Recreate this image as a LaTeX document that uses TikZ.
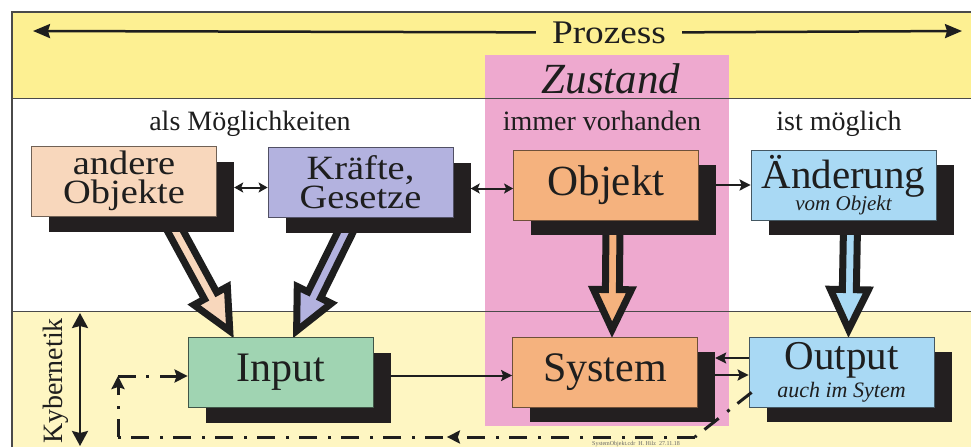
\documentclass[tikz,border=0pt]{standalone}
\usepackage{fontspec}
\setmainfont{Liberation Serif}
\newfontfamily\widefont[FakeStretch=1.13]{Liberation Serif}
\usetikzlibrary{arrows.meta,calc,decorations.markings}
\pgfdeclarelayer{back}
\pgfdeclarelayer{mid}
\pgfsetlayers{back,mid,main}
\definecolor{topband}{HTML}{FDF092}
\definecolor{botband}{HTML}{FEF6C2}
\definecolor{pinkz}{HTML}{EEA9CF}
\definecolor{peach}{HTML}{F8D7BC}
\definecolor{lav}{HTML}{B3B2DF}
\definecolor{orng}{HTML}{F5B27E}
\definecolor{lblue}{HTML}{A9D9F4}
\definecolor{lgreen}{HTML}{A0D4B2}
\definecolor{shadowc}{HTML}{231F20}
\definecolor{linec}{HTML}{1E1E1E}
\definecolor{txt}{HTML}{1E1E1E}
\definecolor{rulec}{HTML}{4A4A4A}
\newcommand\tightlines{\lineskiplimit=-100pt\relax\lineskip=0pt\relax}
\newcommand\blockarr[3]{%
  \draw[barrow, fill=#3] let \p1=(#1), \p2=(#2),
    \n1={atan2(\y2-\y1,\x2-\x1)}, \n2={veclen(\x2-\x1,\y2-\y1)-7pt} in
    [shift={(\p1)}, rotate=\n1]
    (0pt,-7pt) -- (\n2-40pt,-7pt) -- (\n2-40pt,-19pt) -- (\n2,0pt)
    -- (\n2-40pt,19pt) -- (\n2-40pt,7pt) -- (0pt,7pt) -- cycle;}
\begin{document}
\begin{tikzpicture}[x=1pt,y=-1pt,
  box/.style={line width=0.8pt, minimum width=185pt, minimum height=70pt,
    inner sep=0pt, align=center, text=txt},
  shd/.style={fill=shadowc, minimum width=185pt, minimum height=70pt, inner sep=0pt},
  lbl/.style={anchor=base, text=txt, font=\fontsize{28}{28}\selectfont},
  conn/.style={line width=2pt, draw=linec, -{Stealth[length=11pt,width=11pt,inset=2pt]}},
  dbl/.style={line width=2pt, draw=linec,
    {Stealth[length=9pt,width=10pt,inset=2pt]}-{Stealth[length=9pt,width=10pt,inset=2pt]}},
  parrow/.style={line width=2.5pt, draw=linec, -{Stealth[length=17pt,width=14pt,inset=2pt]}},
  kyb/.style={line width=2.5pt, draw=linec,
    {Stealth[length=15pt,width=16pt,inset=2pt]}-{Stealth[length=15pt,width=16pt,inset=2pt]}},
  fb/.style={line width=3pt, draw=linec, dash pattern=on 18pt off 10pt on 3pt off 11pt},
  fbtip/.style={-{Stealth[length=13pt,width=13pt,inset=2pt]}},
  barrow/.style={draw=linec, line width=7pt, line join=miter, miter limit=10},
  bigfont/.style={font=\fontsize{43}{43}\selectfont},
  twofont/.style={font=\widefont\fontsize{34}{29}\selectfont\tightlines},
]
\useasboundingbox (0,0) rectangle (971,447);

\begin{pgfonlayer}{back}
  \fill[topband] (12,12) rectangle (971,98);
  \fill[white] (12,98) rectangle (971,311);
  \fill[botband] (12,311) rectangle (971,447);
  \fill[pinkz] (485,55) rectangle (729,426);
  \draw[rulec, line width=0.9pt] (12,98) -- (971,98);
  \draw[rulec, line width=0.9pt] (12,311) -- (971,311);
  \draw[rulec, line width=1.2pt] (12,447) -- (12,12) -- (971,12);
\end{pgfonlayer}

% headings
\node[anchor=base, text=txt, inner xsep=16pt, font=\widefont\fontsize{33}{33}\selectfont] (proz) at (609,43) {Prozess};
\coordinate (pl) at (33,31);
\coordinate (pr) at (962,31);
\draw[parrow] (proz.west) -- (pl);
\draw[parrow] (proz.east) -- (pr);
\node[anchor=base, text=txt, font=\itshape\fontsize{43}{43}\selectfont] (zus) at (611,93) {Zustand};
\node[lbl] (moegl) at (250,130) {als Möglichkeiten};
\node[lbl] (immer) at (602,130) {immer vorhanden};
\node[lbl] (istm) at (839,130) {ist möglich};
\node[anchor=base, rotate=90, text=txt, font=\fontsize{28}{28}\selectfont] (kyb) at (62,381) {Kybernetik};
\coordinate (k1) at (80,313);
\coordinate (k2) at (80,446);
\draw[kyb] (k1) -- (k2);

% box centres
\coordinate (cand) at (124,181);
\coordinate (ckra) at (360.5,182);
\coordinate (cobj) at (606,185);
\coordinate (caen) at (843.5,185);
\coordinate (cinp) at (280.5,372.5);
\coordinate (csys) at (605,372);
\coordinate (cout) at (841.5,372);

% shadows
\node[shd] (andS) at ($(cand)+(17.5,15.5)$) {};
\node[shd] (kraS) at ($(ckra)+(17.5,15.5)$) {};
\node[shd] (objS) at ($(cobj)+(17.5,15)$) {};
\node[shd] (aenS) at ($(caen)+(17.5,15)$) {};
\node[shd] (inpS) at ($(cinp)+(17.5,15)$) {};
\node[shd] (sysS) at ($(csys)+(17.5,15)$) {};
\node[shd] (outS) at ($(cout)+(17.5,15)$) {};

% boxes
\node[box, fill=peach, draw=peach!45!black, twofont] (and) at (cand) {andere\\Objekte};
\node[box, fill=lav, draw=lav!45!black, twofont] (kra) at (ckra) {Kräfte,\\Gesetze};
\node[box, fill=orng, draw=orng!45!black, bigfont] (obj) at (cobj) {Objekt};
\node[box, fill=lblue, draw=lblue!40!black,
  font=\fontsize{41}{22}\selectfont\tightlines] (aen) at (caen)
  {Änderung\\{\itshape\fontsize{21}{21}\selectfont vom Objekt}};
\node[box, fill=lgreen, draw=lgreen!40!black, font=\fontsize{42}{42}\selectfont] (inp) at (cinp) {Input};
\node[box, fill=orng, draw=orng!45!black, font=\fontsize{42}{42}\selectfont] (sys) at (csys) {System};
\node[box, fill=lblue, draw=lblue!40!black,
  font=\fontsize{41}{28}\selectfont\tightlines] (out) at (cout)
  {Output\\{\itshape\fontsize{22}{22}\selectfont auch im Sytem}};

% block arrows
\begin{pgfonlayer}{mid}
  \blockarr{$(andS.south)+(31,-6)$}{$(inp.north west)!0.245!(inp.north east)$}{peach}
  \blockarr{$(kraS.south)+(-30,-6)$}{$(inp.north west)!0.57!(inp.north east)$}{lav}
  \blockarr{$(obj.south)+(7,6)$}{$(sys.north)+(7,0)$}{orng}
  \blockarr{$(aen.south)+(7,6)$}{$(out.north)+(7,0)$}{lblue}
\end{pgfonlayer}

% thin connectors
\draw[dbl] ($(andS.east)+(0,-9)$) coordinate (t1) -- (kra.west |- t1);
\draw[dbl] ($(kraS.east)+(0,-9)$) coordinate (t2) -- (obj.west |- t2);
\draw[conn] ($(objS.east)+(0,-15)$) coordinate (t3) -- (aen.west |- t3);
\draw[conn] ($(inpS.east)+(0,-12)$) coordinate (t4) -- (sys.west |- t4);
\draw[conn] ($(out.west)+(0,-14)$) coordinate (t5) -- (sysS.east |- t5);
\draw[conn] ($(sysS.east)+(0,-12)$) coordinate (t6) -- (out.west |- t6);

% feedback
\coordinate (f0) at ($(out.south west)+(3,-15)$);
\coordinate (f1) at (695,437);
\coordinate (f2) at (118,437);
\coordinate (f3) at (118,376);
\draw[fb] (f0) -- (f1);
\draw[fb, postaction={decorate}, decoration={markings,
  mark=at position 0.43 with {\arrow{Stealth[length=13pt,width=13pt,inset=2pt]}}}] (f1) -- (f2);
\draw[fb, fbtip] (f2) -- (f3);
\draw[fb, fbtip] (f3) -- (inp.west |- f3);

\node[anchor=south, inner sep=0pt, text=black!60, font=\fontsize{6}{6}\selectfont] (foot) at (636,446.5) {SystemObjekt.cdr \ H. Hilz \ 27.11.18};
\end{tikzpicture}
\end{document}
